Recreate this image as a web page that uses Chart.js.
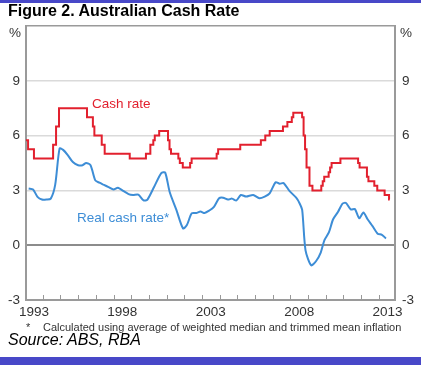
<!DOCTYPE html>
<html lang="en">
<head>
    <meta charset="UTF-8">
    <title>Figure 2. Australian Cash Rate</title>
    <script src="https://cdn.jsdelivr.net/npm/chart.js"></script>
    <style>
        body { margin: 0; background: #fff; font-family: 'Liberation Sans', Arial, sans-serif; }
        #wrap { position: relative; width: 421px; height: 365px; overflow: hidden; }
        #chart { position: absolute; left: 0; top: 0; }
        .txt { position: absolute; white-space: nowrap; }
        .bar { position: absolute; left: 0; width: 421px; background: #4848c8; }
    </style>
</head>
<body>
<div id="wrap">
    <canvas id="chart" width="421" height="365"></canvas>
    <div class="bar" style="top:0;height:3px"></div>
    <div class="txt" style="left:8px;top:2px;font-size:16px;line-height:18px;font-weight:bold;color:#000">Figure 2. Australian Cash Rate</div>
    <div class="txt" style="left:9px;top:25px;font-size:13.5px;line-height:16px;color:#333">%</div>
    <div class="txt" style="left:400px;top:25px;font-size:13.5px;line-height:16px;color:#333">%</div>
    <div class="txt" style="left:92px;top:96px;font-size:13.5px;line-height:16px;color:#e2202e">Cash rate</div>
    <div class="txt" style="left:77px;top:210px;font-size:13.5px;line-height:16px;color:#3d8dd6">Real cash rate*</div>
    <div class="txt" style="left:26px;top:321px;font-size:11px;line-height:12px;color:#333">*</div>
    <div class="txt" style="left:43px;top:321px;font-size:11px;line-height:12px;color:#333">Calculated using average of weighted median and trimmed mean inflation</div>
    <div class="txt" style="left:8px;top:331px;font-size:16px;line-height:18px;font-style:italic;color:#000">Source: ABS, RBA</div>
    <div class="bar" style="top:357px;height:8px"></div>
</div>
<script>
    // cash rate target, month of each change (decimal year) and new level
    const cashDates = [1993.0, 1993.167, 1993.5, 1994.583, 1994.75, 1994.917, 1996.5, 1996.833, 1996.917,
        1997.333, 1997.5, 1998.917, 1999.833, 2000.083, 2000.25, 2000.333, 2000.583, 2001.083, 2001.167,
        2001.25, 2001.667, 2001.75, 2001.917, 2002.333, 2002.417, 2003.833, 2003.917, 2005.167, 2006.333,
        2006.583, 2006.833, 2007.583, 2007.833, 2008.083, 2008.167, 2008.667, 2008.75, 2008.833, 2008.917,
        2009.083, 2009.25, 2009.75, 2009.833, 2009.917, 2010.167, 2010.25, 2010.333, 2010.833, 2011.833,
        2011.917, 2012.333, 2012.417, 2012.75, 2012.917, 2013.333, 2013.583, 2013.62];
    const cashRate = [5.75, 5.25, 4.75, 5.5, 6.5, 7.5, 7.0, 6.5, 6.0,
        5.5, 5.0, 4.75, 5.0, 5.5, 5.75, 6.0, 6.25, 5.75, 5.25,
        5.0, 4.75, 4.5, 4.25, 4.5, 4.75, 5.0, 5.25, 5.5, 5.75,
        6.0, 6.25, 6.5, 6.75, 7.0, 7.25, 7.0, 6.0, 5.25, 4.25,
        3.25, 3.0, 3.25, 3.5, 3.75, 4.0, 4.25, 4.5, 4.75, 4.5,
        4.25, 3.75, 3.5, 3.25, 3.0, 2.75, 2.5, 2.5];

    // real cash rate
    const realDates = [1993.2, 1993.45, 1993.7, 1993.95, 1994.2, 1994.45, 1994.7, 1994.95, 1995.15, 1995.4,
        1995.7, 1996.0, 1996.25, 1996.45, 1996.7, 1996.97, 1997.2, 1997.46, 1997.72, 1998.0,
        1998.25, 1998.55, 1998.85, 1999.1, 1999.4, 1999.7, 1999.92, 2000.3, 2000.7, 2000.92,
        2001.18, 2001.55, 2001.93, 2002.15, 2002.42, 2002.68, 2002.92, 2003.15, 2003.42, 2003.68,
        2003.97, 2004.2, 2004.47, 2004.7, 2004.95, 2005.2, 2005.5, 2005.9, 2006.25, 2006.55,
        2006.83, 2007.17, 2007.4, 2007.62, 2007.95, 2008.33, 2008.52, 2008.67, 2008.86, 2009.18,
        2009.45, 2009.72, 2009.93, 2010.18, 2010.42, 2010.7, 2010.95, 2011.15, 2011.42, 2011.65,
        2011.9, 2012.13, 2012.37, 2012.66, 2012.94, 2013.18, 2013.41];
    const realRate = [3.1, 3.05, 2.65, 2.5, 2.5, 2.55, 3.3, 5.3, 5.22, 4.95,
        4.55, 4.38, 4.38, 4.5, 4.38, 3.55, 3.42, 3.3, 3.18, 3.05,
        3.15, 2.97, 2.8, 2.75, 2.77, 2.45, 2.5, 3.2, 3.95, 3.98,
        2.9, 1.95, 0.92, 1.1, 1.74, 1.76, 1.84, 1.76, 1.9, 2.1,
        2.57, 2.6, 2.5, 2.55, 2.45, 2.75, 2.66, 2.75, 2.57, 2.66,
        2.84, 3.45, 3.36, 3.4, 2.97, 2.6, 2.3, 1.93, -0.28, -1.1,
        -0.88, -0.4, 0.28, 0.7, 1.42, 1.83, 2.28, 2.31, 1.96, 1.98,
        1.47, 1.79, 1.42, 1.03, 0.63, 0.57, 0.37];

    const xTickLabels = ['1993', '1998', '2003', '2008', '2013'];
    const yTicks = [-3, 0, 3, 6, 9, 12];

    const toPoints = (xs, ys) => xs.map((x, i) => ({ x: x, y: ys[i] }));

    Chart.defaults.font.family = "'Liberation Sans', Arial, sans-serif";
    Chart.defaults.color = '#333';

    // small yearly tick marks standing up from the bottom axis
    const yearTicks = {
        id: 'yearTicks',
        beforeDatasetsDraw(chart) {
            const ctx = chart.ctx, x = chart.scales.x, bottom = chart.chartArea.bottom;
            ctx.save();
            ctx.strokeStyle = '#999';
            ctx.lineWidth = 1;
            for (let yr = 1994; yr <= 2013; yr++) {
                const px = Math.round(x.getPixelForValue(yr)) + 0.5;
                ctx.beginPath();
                ctx.moveTo(px, bottom);
                ctx.lineTo(px, bottom - 5);
                ctx.stroke();
            }
            ctx.restore();
        }
    };

    const yAxis = (pos) => ({
        position: pos,
        min: -3,
        max: 12,
        afterBuildTicks: s => { s.ticks = yTicks.map(v => ({ value: v })); },
        afterFit: s => { s.width = 26; },
        ticks: {
            callback: v => (v === 12 ? '' : v),
            padding: pos === 'left' ? 6 : 7,
            font: { size: 13.5 },
            color: '#333'
        },
        grid: {
            drawOnChartArea: pos === 'left',
            drawTicks: false,
            color: c => {
                const v = c.tick.value;
                if (v === 0) return '#8c8c8c';
                if (v === 12) return '#9a9a9a';
                if (v === -3) return 'rgba(0,0,0,0)';
                return '#dadada';
            },
            lineWidth: c => (c.tick.value === 0 ? 2 : 1.5)
        },
        border: { color: '#9a9a9a', width: 2 }
    });

    new Chart(document.getElementById('chart'), {
        type: 'line',
        data: {
            datasets: [
                {
                    label: 'Cash rate',
                    data: toPoints(cashDates, cashRate),
                    borderColor: '#e2202e',
                    borderWidth: 2,
                    stepped: true,
                    pointRadius: 0
                },
                {
                    label: 'Real cash rate*',
                    data: toPoints(realDates, realRate),
                    borderColor: '#3d8dd6',
                    borderWidth: 2,
                    tension: 0.25,
                    pointRadius: 0
                }
            ]
        },
        options: {
            responsive: false,
            animation: false,
            layout: { padding: { top: 26, left: 0, right: 0, bottom: 0 } },
            plugins: { legend: { display: false }, tooltip: { enabled: false } },
            scales: {
                x: {
                    type: 'linear',
                    min: 1993.05,
                    max: 2013.92,
                    afterBuildTicks: s => { s.ticks = xTickLabels.map(l => ({ value: +l + 0.5 })); },
                    afterFit: s => { s.height = 65; },
                    ticks: {
                        callback: v => String(Math.floor(v)),
                        autoSkip: false,
                        maxRotation: 0,
                        padding: 4,
                        font: { size: 13.5 },
                        color: '#333'
                    },
                    grid: { display: false, drawTicks: false },
                    border: { display: true, color: '#9a9a9a', width: 2 }
                },
                y: yAxis('left'),
                y2: yAxis('right')
            }
        },
        plugins: [yearTicks]
    });
</script>
</body>
</html>
